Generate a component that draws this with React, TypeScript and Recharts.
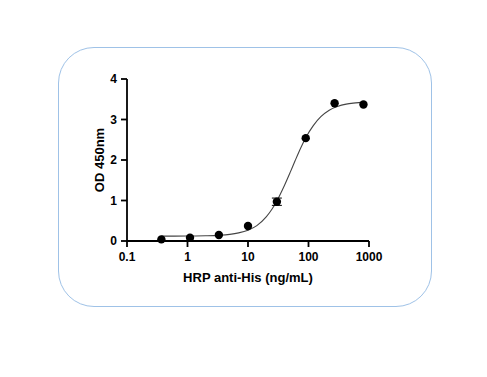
import React from "react";
import {
  ComposedChart,
  Scatter,
  Line,
  ErrorBar,
  XAxis,
  YAxis,
} from "recharts";

// measured points (ng/mL vs OD 450nm)
const concentrations = [0.37, 1.1, 3.3, 10, 30, 90, 270, 810];
const odMean = [0.04, 0.08, 0.15, 0.37, 0.97, 2.54, 3.4, 3.37];
const odError = [0, 0, 0, 0, 0.09, 0, 0, 0];

// fitted curve
const curveX = [0.37, 0.6, 1, 2, 3.3, 5, 7, 10, 14, 20, 25, 30, 40, 50, 60, 75, 90, 120, 160, 220, 300, 420, 600, 810];
const curveY = [0.12, 0.12, 0.122, 0.128, 0.14, 0.163, 0.2, 0.267, 0.38, 0.595, 0.79, 0.99, 1.37, 1.7, 1.98, 2.31, 2.55, 2.85, 3.07, 3.23, 3.32, 3.38, 3.41, 3.43];

const xTicks = [0.1, 1, 10, 100, 1000];
const yTicks = [0, 1, 2, 3, 4];

const points = concentrations.map((x, i) => ({ x, y: odMean[i], err: odError[i] }));
const curve = curveX.map((x, i) => ({ x, y: curveY[i] }));

const font = "'Liberation Sans', Arial, sans-serif";
const tickStyle = { fill: "#000", fontSize: 12, fontWeight: 700, fontFamily: font };

export default function App() {
  return (
    <div style={{ position: "absolute", left: 0, top: 0, width: 487, height: 377, background: "#fff" }}>
      <div
        style={{
          position: "absolute",
          left: 58,
          top: 47,
          width: 374,
          height: 260,
          boxSizing: "border-box",
          border: "1.5px solid #9fc2e7",
          borderRadius: 36,
        }}
      />
      <div style={{ position: "absolute", left: 0, top: 0 }}>
        <ComposedChart
          width={487}
          height={377}
          margin={{ top: 79, right: 118, bottom: 90, left: 90 }}
        >
          <XAxis
            dataKey="x"
            type="number"
            scale="log"
            domain={[0.1, 1000]}
            ticks={xTicks}
            allowDataOverflow
            height={46}
            stroke="#000"
            strokeWidth={1.8}
            tickSize={6}
            tickMargin={5}
            tick={tickStyle}
            tickFormatter={(v: number) => String(v)}
            label={({ viewBox }: any) => (
              <text
                x={viewBox.x + viewBox.width / 2}
                y={viewBox.y + 41}
                textAnchor="middle"
                fontSize={13}
                fontWeight={700}
                fontFamily={font}
                fill="#000"
              >
                HRP anti-His (ng/mL)
              </text>
            )}
          />
          <YAxis
            dataKey="y"
            type="number"
            domain={[0, 4]}
            ticks={yTicks}
            width={37}
            stroke="#000"
            strokeWidth={1.8}
            tickSize={6}
            tickMargin={4}
            tick={tickStyle}
            label={({ viewBox }: any) => {
              const cx = viewBox.x + 9;
              const cy = viewBox.y + viewBox.height / 2;
              return (
                <text
                  x={cx}
                  y={cy}
                  transform={`rotate(-90 ${cx} ${cy})`}
                  textAnchor="middle"
                  dominantBaseline="central"
                  fontSize={13}
                  fontWeight={700}
                  fontFamily={font}
                  fill="#000"
                >
                  OD 450nm
                </text>
              );
            }}
          />
          <Line
            data={curve}
            dataKey="y"
            type="monotone"
            stroke="#444"
            strokeWidth={1.1}
            dot={false}
            activeDot={false}
            isAnimationActive={false}
          />
          <Scatter data={points} dataKey="y" fill="#000" isAnimationActive={false}
            shape={(p: any) => <circle cx={p.cx} cy={p.cy} r={4.2} fill="#000" />}
          >
            <ErrorBar dataKey="err" direction="y" width={5} stroke="#000" strokeWidth={1} />
          </Scatter>
        </ComposedChart>
      </div>
    </div>
  );
}
